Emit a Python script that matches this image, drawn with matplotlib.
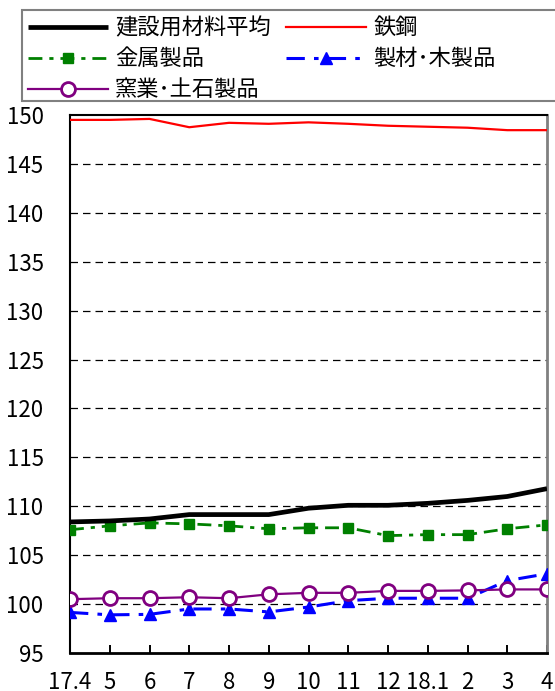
import matplotlib
matplotlib.use("Agg")
import matplotlib.pyplot as plt
from matplotlib.patches import Rectangle

plt.rcParams['font.family'] = ['Noto Sans CJK JP', 'DejaVu Sans']

months = ["17.4", "5", "6", "7", "8", "9", "10", "11", "12", "18.1", "2", "3", "4"]

avg_materials = [108.4, 108.5, 108.7, 109.15, 109.15, 109.15, 109.8, 110.1, 110.1, 110.3, 110.6, 111.0, 111.8]
steel = [149.5, 149.5, 149.6, 148.75, 149.2, 149.1, 149.25, 149.1, 148.9, 148.8, 148.7, 148.45, 148.45]
metal_products = [107.6, 108.0, 108.3, 108.2, 108.0, 107.7, 107.8, 107.8, 107.0, 107.1, 107.1, 107.7, 108.1]
lumber_wood = [99.15, 98.9, 98.95, 99.5, 99.5, 99.2, 99.7, 100.35, 100.6, 100.6, 100.6, 102.4, 103.1]
ceramics_stone = [100.5, 100.6, 100.6, 100.7, 100.6, 101.0, 101.15, 101.15, 101.35, 101.35, 101.4, 101.5, 101.5]

labels = ["建設用材料平均", "鉄鋼", "金属製品", "製材･木製品", "窯業･土石製品"]

W, H = 555, 691
fig = plt.figure(figsize=(W / 100, H / 100), dpi=100)
ax = fig.add_axes([70 / W, (H - 653) / H, 477 / W, 538 / H])

x = list(range(len(months)))

l_avg, = ax.plot(x, avg_materials, color="black", lw=3.4, solid_capstyle="butt", zorder=5)
l_steel, = ax.plot(x, steel, color="#ff0000", lw=1.6, zorder=5)
l_metal, = ax.plot(x, metal_products, color="#008000", lw=2.0,
                   linestyle=(0, (5, 2.5, 1.5, 2.5)), marker="s", markersize=7,
                   markeredgecolor="#008000", markerfacecolor="#008000", zorder=4)
l_wood, = ax.plot(x, lumber_wood, color="#0000ff", lw=2.2,
                  linestyle=(0, (6, 3, 1.5, 3)), marker="^", markersize=8,
                  markeredgecolor="#0000ff", markerfacecolor="#0000ff", zorder=4)
l_ceram, = ax.plot(x, ceramics_stone, color="#800080", lw=1.6, marker="o",
                   markersize=10, markerfacecolor="white", markeredgecolor="#800080",
                   markeredgewidth=2.0, zorder=6)

ax.set_xlim(0, len(months) - 1)
ax.set_ylim(95, 150)
ax.set_yticks(range(95, 151, 5))
ax.set_xticks(x)
ax.set_xticklabels(months)

for yv in range(100, 150, 5):
    ax.axhline(yv, color="black", lw=0.9, linestyle=(0, (6, 4)), zorder=1)

ax.tick_params(axis="x", direction="in", length=6, width=1.4, pad=13, labelsize=16)
ax.tick_params(axis="y", length=0, pad=19, labelsize=16)

for side in ("left", "bottom", "top"):
    ax.spines[side].set_color("black")
    ax.spines[side].set_linewidth(1.5)
ax.spines["bottom"].set_linewidth(2.0)
ax.spines["right"].set_color("#808080")
ax.spines["right"].set_linewidth(2.0)

# legend frame running off the right edge
fig.patches.append(Rectangle((22 / W, 1 - 101 / H), 600 / W, 91 / H,
                             transform=fig.transFigure, facecolor="white",
                             edgecolor="#808080", lw=1.5, zorder=0))

handles = [l_avg, l_metal, l_ceram, l_steel, l_wood]
hlabels = [labels[0], labels[2], labels[4], labels[1], labels[3]]
fig.legend(handles, hlabels, loc="upper left", ncol=2,
           bbox_to_anchor=(24 / W, 1 - 12 / H), frameon=False,
           fontsize=16, handlelength=3.6, handletextpad=0.3,
           columnspacing=0.7, labelspacing=0.36, borderpad=0.2,
           borderaxespad=0)

fig.savefig("out.png", dpi=100)
